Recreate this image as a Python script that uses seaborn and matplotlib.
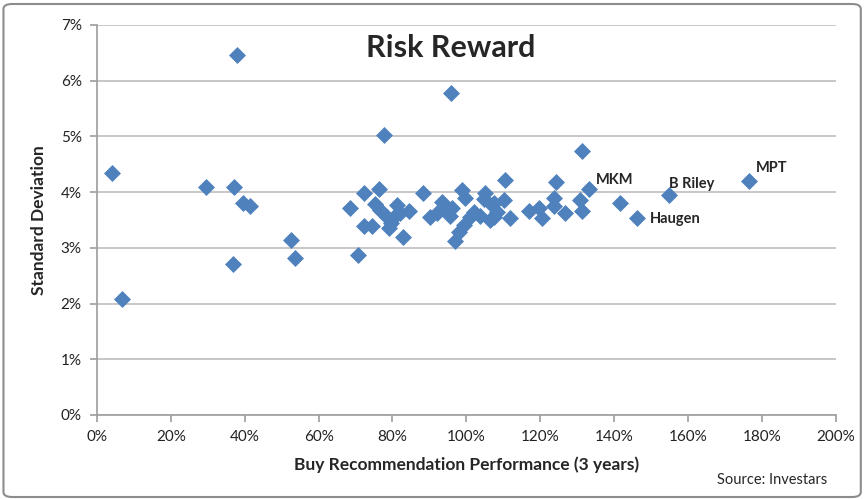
import matplotlib
matplotlib.use("Agg")
import matplotlib.pyplot as plt
from matplotlib.ticker import PercentFormatter, MultipleLocator
from matplotlib.patches import FancyBboxPatch
import seaborn as sns
import pandas as pd

# Buy recommendation performance (3 years), in %
performance = [
    4.1, 6.8, 29.5, 37.1, 37.9, 39.6, 41.5, 36.9, 52.6, 53.7,
    70.7, 68.6, 72.4, 76.4, 77.8, 95.9, 131.2, 88.2, 82.8, 72.4,
    74.4, 75.3, 76.7, 78.5, 79.0, 81.2, 80.8, 82.1, 84.4, 90.2,
    92.0, 93.4, 96.1, 95.7, 98.8, 99.7, 99.3, 97.9, 97.0, 102.0,
    105.1, 104.7, 103.8, 106.9, 107.4, 110.6, 124.4, 110.1, 107.4, 123.7,
    130.9, 141.7, 108.3, 106.5, 111.9, 116.9, 119.6, 120.5, 123.7, 126.8,
    131.3, 101.0, 79.5, 94.0, 133.1, 154.8, 146.2, 176.4,
]
# standard deviation, in %
std_dev = [
    4.35, 2.08, 4.09, 4.09, 6.47, 3.81, 3.75, 2.71, 3.14, 2.81,
    2.88, 3.72, 3.99, 4.06, 5.02, 5.78, 4.73, 3.99, 3.20, 3.40,
    3.40, 3.78, 3.68, 3.56, 3.36, 3.77, 3.57, 3.62, 3.66, 3.56,
    3.62, 3.83, 3.72, 3.57, 4.04, 3.89, 3.41, 3.29, 3.12, 3.65,
    3.98, 3.87, 3.57, 3.77, 3.56, 4.22, 4.19, 3.86, 3.80, 3.89,
    3.86, 3.81, 3.65, 3.50, 3.53, 3.66, 3.71, 3.54, 3.75, 3.63,
    3.66, 3.55, 3.45, 3.70, 4.06, 3.94, 3.54, 4.20,
]
names = [""] * 64 + ["MKM", "B Riley", "Haugen", "MPT"]

df = pd.DataFrame({"perf": performance, "sd": std_dev, "name": names})

sns.set_theme(style="white")
plt.rcParams["font.family"] = ["Lato", "DejaVu Sans"]

fig = plt.figure(figsize=(8.66, 5), dpi=100)
ax = fig.add_axes([0.112, 0.17, 0.853, 0.78])

sns.scatterplot(data=df, x="perf", y="sd", marker="D", color="#4F81BD",
                s=75, linewidth=0, ax=ax, zorder=3)

ax.set_xlim(0, 200)
ax.set_ylim(0, 7)
ax.xaxis.set_major_locator(MultipleLocator(20))
ax.yaxis.set_major_locator(MultipleLocator(1))
ax.xaxis.set_major_formatter(PercentFormatter(100, decimals=0))
ax.yaxis.set_major_formatter(PercentFormatter(100, decimals=0))
ax.grid(axis="y", color="#BEBEBE", linewidth=1.2)
ax.grid(axis="x", visible=False)
for side in ["top", "right"]:
    ax.spines[side].set_visible(False)
for side in ["left", "bottom"]:
    ax.spines[side].set_color("#A0A0A0")
ax.tick_params(axis="both", direction="out", length=5, color="#A0A0A0",
               labelsize=11, labelcolor="#222222", bottom=True, left=True, pad=6)

ax.set_xlabel("Buy Recommendation Performance (3 years)", fontsize=12.5,
              fontweight="bold", labelpad=9)
ax.set_ylabel("Standard Deviation", fontsize=12.5, fontweight="bold", labelpad=10)

ax.text(0.479, 0.94, "Risk Reward", transform=ax.transAxes, ha="center",
        va="center", fontsize=22, fontweight="bold")

# labels for the highlighted firms
offsets = {"MKM": (5, 1, "bottom"), "B Riley": (0, 3, "bottom"),
           "Haugen": (9, -1, "center"), "MPT": (5, 4, "bottom")}
for _, row in df[df["name"] != ""].iterrows():
    dx, dy, va = offsets[row["name"]]
    ax.annotate(row["name"], (row["perf"], row["sd"]), xytext=(dx, dy),
                textcoords="offset points", fontsize=10.5, fontweight="bold",
                va=va)

fig.text(0.955, 0.04, "Source: Investars", ha="right", va="center", fontsize=10.5)

border = FancyBboxPatch((0.004, 0.006), 0.99, 0.986, transform=fig.transFigure,
                        boxstyle="round,pad=0,rounding_size=0.01",
                        facecolor="none", edgecolor="#8C8C8C", linewidth=1.5)
fig.patches.append(border)

fig.savefig("out.png", dpi=100)
